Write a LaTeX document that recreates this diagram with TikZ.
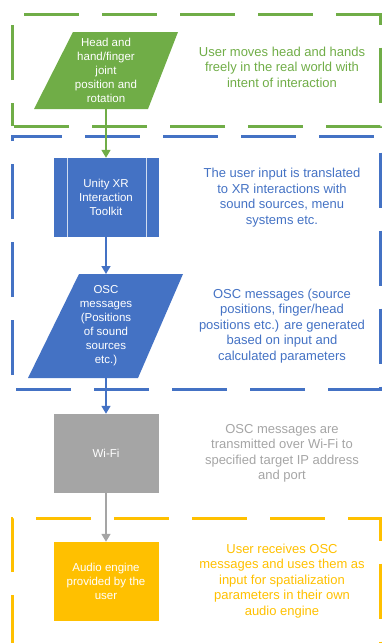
\documentclass[tikz,border=0pt]{standalone}
\usepackage{fontspec}
\setmainfont{Liberation Sans}
\usetikzlibrary{arrows.meta}
\definecolor{cgreen}{HTML}{70AD47}
\definecolor{cblue}{HTML}{4472C4}
\definecolor{cgray}{HTML}{A5A5A5}
\definecolor{corange}{HTML}{FFC000}
\tikzset{
  zone/.style={line width=3pt, dash pattern=on 55pt off 23pt},
  boxtext/.style={text=white, align=center, font=\fontsize{11.5}{14}\selectfont, inner sep=0pt},
  sidetext/.style={align=center, font=\fontsize{13}{15.5}\selectfont, inner sep=0pt},
  procbox/.style={minimum width=105pt, minimum height=79pt, inner sep=0pt, boxtext},
  flow/.style={line width=1.5pt, -{Triangle[width=9pt,length=8pt]}}
}
\begin{document}
\begin{tikzpicture}[x=1pt,y=-1pt]
\useasboundingbox (0,0) rectangle (382,643);
% zones
\draw[zone, cgreen, dash phase=32pt] (12,126) -- (12,14) -- (380.5,14) -- (380.5,126) -- cycle;
\draw[zone, cblue, dash phase=64pt] (12,389) -- (12,136) -- (380.5,136) -- (380.5,389) -- cycle;
\draw[zone, corange, dash phase=6pt] (12,644) -- (12,518) -- (380.5,518) -- (380.5,644) -- cycle;
% green parallelogram
\fill[cgreen] (73,32) -- (178,32) -- (148,109) -- (34,109) -- cycle;
\node[boxtext] (head) at (106,70.5) {Head and\\hand/finger\\joint\\position and\\rotation};
\coordinate (headB) at (106,109);
% unity box
\node[procbox, fill=cblue] (unity) at (106,197.5) {Unity XR\\Interaction\\Toolkit};
\draw[white!75!cblue, line width=0.6pt] ([xshift=14pt]unity.north west) -- ([xshift=14pt]unity.south west);
\draw[white!75!cblue, line width=0.6pt] ([xshift=-12pt]unity.north east) -- ([xshift=-12pt]unity.south east);
% OSC parallelogram
\fill[cblue] (79,274) -- (183,274) -- (138,378) -- (28,378) -- cycle;
\node[boxtext] (osc) at (106,326) {OSC\\messages\\(Positions\\of sound\\sources\\etc.)};
\coordinate (oscT) at (106,274);
\coordinate (oscB) at (106,378);
% wifi and audio
\node[procbox, fill=cgray] (wifi) at (106,453.5) {Wi-Fi};
\node[procbox, fill=corange] (audio) at (106,581.5) {Audio engine\\provided by the\\user};
% arrows
\draw[flow, cgreen] (headB) -- (unity.north);
\draw[flow, cblue] (unity.south) -- (oscT);
\draw[flow, cblue] (oscB) -- (wifi.north);
\draw[flow, cgray] (wifi.south) -- (audio.north);
% side texts
\node[sidetext, text=cgreen] (t1) at (282,67) {User moves head and hands\\freely in the real world with\\intent of interaction};
\node[sidetext, text=cblue] (t2) at (282,197.5) {The user input is translated\\to XR interactions with\\sound sources, menu\\systems etc.};
\node[sidetext, text=cblue] (t3) at (282,326) {OSC messages (source\\positions, finger/head\\positions etc.) are generated\\based on input and\\calculated parameters};
\node[sidetext, text=cgray] (t4) at (282,453.5) {OSC messages are\\transmitted over Wi-Fi to\\specified target IP address\\and port};
\node[sidetext, text=corange] (t5) at (282,581) {User receives OSC\\messages and uses them as\\input for spatialization\\parameters in their own\\audio engine};
\end{tikzpicture}
\end{document}
